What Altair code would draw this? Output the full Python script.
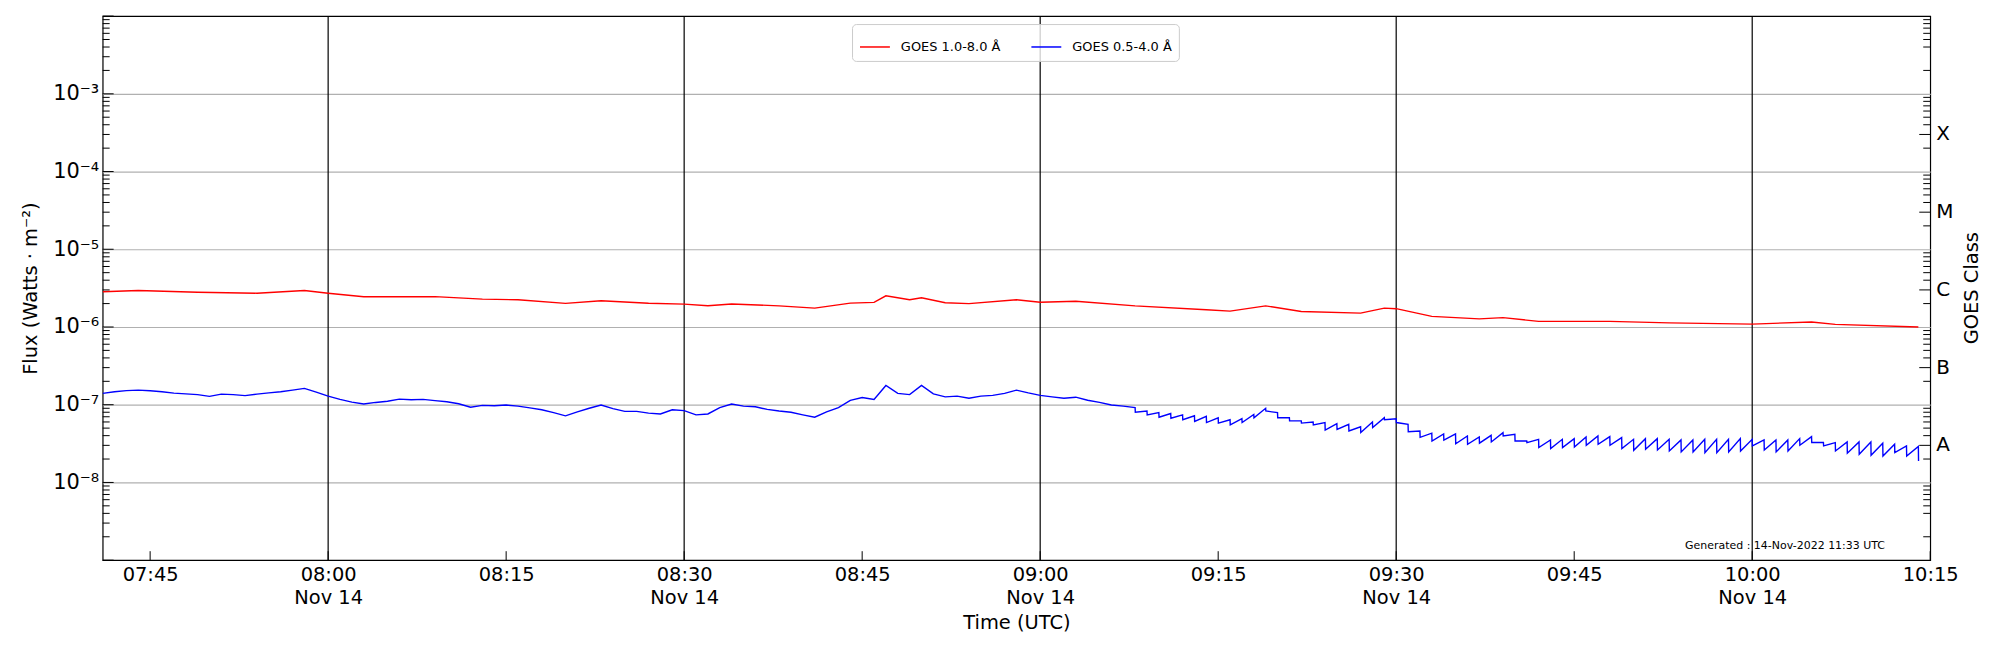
import math
import altair as alt
import pandas as pd

DAY = "2022-11-14"
DATE_LABEL = "Nov 14"

# ---- GOES 1.0-8.0 A (red) ----
red_time = ["07:41", "07:44", "07:49", "07:54", "07:58", "08:00", "08:03", "08:09", "08:13",
            "08:16", "08:20", "08:23", "08:27", "08:30", "08:32", "08:34", "08:38", "08:41",
            "08:44", "08:46", "08:47", "08:49", "08:50", "08:52", "08:54", "08:58", "09:00",
            "09:03", "09:08", "09:14", "09:16", "09:19", "09:22", "09:27", "09:29", "09:30",
            "09:33", "09:37", "09:39", "09:42", "09:48", "09:53", "10:00", "10:05", "10:07",
            "10:14"]
red_flux = [2.84e-6, 2.95e-6, 2.80e-6, 2.72e-6, 2.95e-6, 2.72e-6, 2.45e-6, 2.46e-6, 2.28e-6,
            2.24e-6, 2.01e-6, 2.18e-6, 2.02e-6, 1.97e-6, 1.88e-6, 1.98e-6, 1.87e-6, 1.75e-6,
            2.03e-6, 2.07e-6, 2.52e-6, 2.24e-6, 2.38e-6, 2.05e-6, 2.00e-6, 2.24e-6, 2.08e-6,
            2.14e-6, 1.87e-6, 1.67e-6, 1.60e-6, 1.87e-6, 1.58e-6, 1.51e-6, 1.75e-6, 1.72e-6,
            1.37e-6, 1.27e-6, 1.32e-6, 1.18e-6, 1.18e-6, 1.13e-6, 1.09e-6, 1.16e-6, 1.08e-6,
            1.00e-6]

# ---- GOES 0.5-4.0 A (blue), smooth part ----
blue_time = ["07:41", "07:42", "07:43", "07:44", "07:45", "07:46", "07:47", "07:48", "07:49",
             "07:50", "07:51", "07:52", "07:53", "07:54", "07:55", "07:56", "07:57", "07:58",
             "07:59", "08:00", "08:01", "08:02", "08:03", "08:04", "08:05", "08:06", "08:07",
             "08:08", "08:09", "08:10", "08:11", "08:12", "08:13", "08:14", "08:15", "08:16",
             "08:17", "08:18", "08:19", "08:20", "08:21", "08:22", "08:23", "08:24", "08:25",
             "08:26", "08:27", "08:28", "08:29", "08:30", "08:31", "08:32", "08:33", "08:34",
             "08:35", "08:36", "08:37", "08:38", "08:39", "08:40", "08:41", "08:42", "08:43",
             "08:44", "08:45", "08:46", "08:47", "08:48", "08:49", "08:50", "08:51", "08:52",
             "08:53", "08:54", "08:55", "08:56", "08:57", "08:58", "08:59", "09:00", "09:01",
             "09:02", "09:03", "09:04", "09:05", "09:06", "09:07"]
blue_flux = [1.40e-7, 1.47e-7, 1.52e-7, 1.54e-7, 1.51e-7, 1.47e-7, 1.41e-7, 1.38e-7, 1.35e-7,
             1.28e-7, 1.37e-7, 1.35e-7, 1.31e-7, 1.37e-7, 1.42e-7, 1.47e-7, 1.54e-7, 1.62e-7,
             1.45e-7, 1.29e-7, 1.17e-7, 1.08e-7, 1.02e-7, 1.07e-7, 1.11e-7, 1.18e-7, 1.16e-7,
             1.17e-7, 1.13e-7, 1.09e-7, 1.03e-7, 9.3e-8, 9.8e-8, 9.7e-8, 9.9e-8, 9.6e-8,
             9.1e-8, 8.6e-8, 7.9e-8, 7.2e-8, 8.1e-8, 9.0e-8, 9.9e-8, 8.9e-8, 8.2e-8,
             8.2e-8, 7.8e-8, 7.6e-8, 8.6e-8, 8.4e-8, 7.4e-8, 7.6e-8, 9.2e-8, 1.02e-7,
             9.6e-8, 9.4e-8, 8.7e-8, 8.3e-8, 8.0e-8, 7.4e-8, 6.9e-8, 8.1e-8, 9.2e-8,
             1.14e-7, 1.24e-7, 1.17e-7, 1.77e-7, 1.40e-7, 1.35e-7, 1.77e-7, 1.38e-7, 1.26e-7,
             1.29e-7, 1.21e-7, 1.29e-7, 1.32e-7, 1.40e-7, 1.54e-7, 1.42e-7, 1.32e-7, 1.26e-7,
             1.21e-7, 1.25e-7, 1.14e-7, 1.07e-7, 9.9e-8, 9.6e-8]

# ---- blue, saw-tooth part: value before and after each minute drop ----
saw_time = ["09:08", "09:09", "09:10", "09:11", "09:12", "09:13", "09:14", "09:15", "09:16",
            "09:17", "09:18", "09:19", "09:20", "09:21", "09:22", "09:23", "09:24", "09:25",
            "09:26", "09:27", "09:28", "09:29", "09:30", "09:31", "09:32", "09:33", "09:34",
            "09:35", "09:36", "09:37", "09:38", "09:39", "09:40", "09:41", "09:42", "09:43",
            "09:44", "09:45", "09:46", "09:47", "09:48", "09:49", "09:50", "09:51", "09:52",
            "09:53", "09:54", "09:55", "09:56", "09:57", "09:58", "09:59", "10:00", "10:01",
            "10:02", "10:03", "10:04", "10:05", "10:06", "10:07", "10:08", "10:09", "10:10",
            "10:11", "10:12", "10:13", "10:14"]
saw_top = [9.2e-8, 8.3e-8, 7.9e-8, 7.7e-8, 7.4e-8, 7.2e-8, 7.1e-8, 6.8e-8, 6.4e-8,
           6.6e-8, 7.5e-8, 9.0e-8, 7.9e-8, 6.8e-8, 6.2e-8, 6.0e-8, 5.9e-8, 5.7e-8,
           5.6e-8, 5.2e-8, 6.0e-8, 6.8e-8, 6.6e-8, 5.6e-8, 4.6e-8, 4.3e-8, 4.2e-8,
           4.2e-8, 3.96e-8, 3.85e-8, 4.04e-8, 4.38e-8, 4.16e-8, 3.41e-8, 3.59e-8, 3.52e-8,
           3.59e-8, 3.66e-8, 3.85e-8, 3.96e-8, 3.89e-8, 3.78e-8, 3.59e-8, 3.66e-8, 3.66e-8,
           3.59e-8, 3.52e-8, 3.52e-8, 3.59e-8, 3.59e-8, 3.59e-8, 3.66e-8, 3.59e-8, 3.52e-8,
           3.52e-8, 3.52e-8, 3.66e-8, 3.89e-8, 3.26e-8, 3.26e-8, 3.32e-8, 3.32e-8, 3.32e-8,
           3.19e-8, 3.10e-8, 2.95e-8, 2.90e-8]
saw_bottom = [8.0e-8, 7.4e-8, 6.9e-8, 6.7e-8, 6.4e-8, 6.1e-8, 5.9e-8, 5.8e-8, 5.5e-8,
              5.9e-8, 6.8e-8, 8.3e-8, 6.8e-8, 6.2e-8, 5.8e-8, 5.5e-8, 4.7e-8, 4.8e-8,
              4.6e-8, 4.4e-8, 5.1e-8, 6.4e-8, 5.9e-8, 4.5e-8, 3.8e-8, 3.4e-8, 3.5e-8,
              3.15e-8, 3.1e-8, 3.2e-8, 3.32e-8, 3.96e-8, 3.41e-8, 3.26e-8, 2.81e-8, 2.73e-8,
              2.81e-8, 2.86e-8, 3.01e-8, 3.10e-8, 3.01e-8, 2.73e-8, 2.59e-8, 2.67e-8, 2.62e-8,
              2.54e-8, 2.47e-8, 2.47e-8, 2.42e-8, 2.42e-8, 2.47e-8, 2.54e-8, 2.95e-8, 2.62e-8,
              2.47e-8, 2.54e-8, 3.01e-8, 3.26e-8, 2.95e-8, 2.54e-8, 2.38e-8, 2.31e-8, 2.24e-8,
              2.19e-8, 2.42e-8, 2.19e-8, 1.89e-8]

series_names = ["GOES 1.0-8.0 Å", "GOES 0.5-4.0 Å"]
series_colors = ["#ff0000", "#0000ff"]

x_tick_times = ["07:45", "08:00", "08:15", "08:30", "08:45", "09:00", "09:15", "09:30",
                "09:45", "10:00", "10:15"]
half_hour_lines = ["08:00", "08:30", "09:00", "09:30", "10:00"]
x_domain = ["07:41", "10:15"]

decade_values = [1e-9, 1e-8, 1e-7, 1e-6, 1e-5, 1e-4, 1e-3, 1e-2]
y_label_values = [1e-8, 1e-7, 1e-6, 1e-5, 1e-4, 1e-3]
minor_mult = [2, 3, 4, 5, 6, 7, 8, 9]
class_values = [3e-8, 3e-7, 3e-6, 3e-5, 3e-4]
class_labels = ["A", "B", "C", "M", "X"]
generated_text = "Generated : 14-Nov-2022 11:33 UTC"

W, H = 1834, 546
FONT = "DejaVu Sans"


def iso(hm, sec=0):
    return f"{DAY}T{hm}:{sec:02d}Z"


def dt(hm):
    h, m = hm.split(":")
    return alt.DateTime(year=2022, month=11, date=14, hours=int(h), minutes=int(m), utc=True)


# ---- tables ----
rows = []
for i, (t, v) in enumerate(zip(red_time, red_flux)):
    rows.append({"time": iso(t), "flux": v, "series": series_names[0], "idx": i})
k = 0
for t, v in zip(blue_time, blue_flux):
    rows.append({"time": iso(t), "flux": v, "series": series_names[1], "idx": k})
    k += 1
for t, top, bot in zip(saw_time, saw_top, saw_bottom):
    rows.append({"time": iso(t, 0), "flux": top, "series": series_names[1], "idx": k})
    k += 1
    rows.append({"time": iso(t, 1), "flux": bot, "series": series_names[1], "idx": k})
    k += 1
lines_df = pd.DataFrame(rows)

left_minor_vals = [m * d for d in decade_values[:-1] for m in minor_mult]
right_minor_vals = [m * d for d in decade_values[:-1] for m in minor_mult if m != 3]
left_minor = pd.DataFrame({"flux": left_minor_vals})
right_minor = pd.DataFrame({"flux": right_minor_vals})
decades_df = pd.DataFrame({"flux": decade_values})
class_df = pd.DataFrame({"flux": class_values, "label": class_labels})
xticks_df = pd.DataFrame({"time": [iso(t) for t in x_tick_times]})
vlines_df = pd.DataFrame({"time": [iso(t) for t in half_hour_lines]})
one = pd.DataFrame({"a": [0]})

# ---- scales / axes ----
xscale = alt.Scale(type="utc", domain=[dt(x_domain[0]), dt(x_domain[1])])
yscale = alt.Scale(type="log", domain=[decade_values[0], decade_values[-1]], nice=False)

x_label_expr = (
    "(utcFormat(datum.value, '%M') == '00' || utcFormat(datum.value, '%M') == '30') ? "
    "[utcFormat(datum.value, '%H:%M'), '" + DATE_LABEL + "'] : utcFormat(datum.value, '%H:%M')"
)
xaxis = alt.Axis(values=[dt(t) for t in x_tick_times], labelExpr=x_label_expr, grid=False,
                 ticks=False, tickSize=0, domain=False, labelPadding=5, labelLineHeight=23,
                 labelFontSize=19.5, titleFontSize=19.5, titlePadding=7, labelFlush=False,
                 labelOverlap=False)
y_label_expr = ("'10⁻' + ['⁰','¹','²','³','⁴','⁵','⁶','⁷','⁸','⁹']"
                "[-round(log(datum.value) / LN10)]")
yaxis = alt.Axis(values=y_label_values, labelExpr=y_label_expr, grid=True, gridColor="#b0b0b0",
                 gridWidth=1.2, ticks=False, tickSize=0, domain=False, labelPadding=4,
                 labelFontSize=21, titleFontSize=19.5, titlePadding=12)

X_TITLE = "Time (UTC)"
Y_TITLE = "Flux (Watts · m⁻²)"


def X():
    return alt.X("time:T", scale=xscale, axis=xaxis, title=X_TITLE)


def Y():
    return alt.Y("flux:Q", scale=yscale, axis=yaxis, title=Y_TITLE)


vlines = alt.Chart(vlines_df).mark_rule(color="black", strokeWidth=1.2).encode(x=X())

lines = alt.Chart(lines_df).mark_line(strokeWidth=1.4, clip=True).encode(
    x=X(), y=Y(),
    color=alt.Color("series:N", scale=alt.Scale(domain=series_names, range=series_colors),
                    sort=series_names,
                    legend=alt.Legend(orient="none", legendX=752, legendY=8, direction="horizontal",
                                      title=None, symbolType="stroke", symbolSize=900,
                                      symbolStrokeWidth=1.5, labelFontSize=13, labelFont=FONT,
                                      padding=7, strokeColor="#cccccc",
                                      fillColor="rgba(255,255,255,0.8)", cornerRadius=4,
                                      columnPadding=28, labelOffset=10)),
    order="idx:Q",
)

left_major = alt.Chart(decades_df).mark_rule(color="black").encode(
    y=Y(), x=alt.value(0), x2=alt.value(11))
left_min = alt.Chart(left_minor).mark_rule(color="black").encode(
    y=Y(), x=alt.value(0), x2=alt.value(7))
right_major = alt.Chart(class_df).mark_rule(color="black").encode(
    y=Y(), x=alt.value(W), x2=alt.value(W - 11))
right_min = alt.Chart(right_minor).mark_rule(color="black").encode(
    y=Y(), x=alt.value(W), x2=alt.value(W - 7))
x_ticks = alt.Chart(xticks_df).mark_rule(color="black").encode(
    x=X(), y=alt.value(H), y2=alt.value(H - 9))

class_text = alt.Chart(class_df).mark_text(align="left", baseline="middle", fontSize=20,
                                           font=FONT, color="black").encode(
    y=Y(), x=alt.value(W + 6), text="label:N")
class_title = alt.Chart(one).mark_text(text="GOES Class", angle=270, align="center",
                                       baseline="middle", fontSize=19.5, font=FONT,
                                       color="black").encode(
    x=alt.value(W + 42), y=alt.value(H / 2))
gen_text = alt.Chart(one).mark_text(text=generated_text, align="left", baseline="middle",
                                    fontSize=11, font=FONT, color="black").encode(
    x=alt.value(1588), y=alt.value(532))

chart = alt.layer(
    vlines, lines, left_major, left_min, right_major, right_min, x_ticks,
    class_text, class_title, gen_text
).properties(
    width=W, height=H,
    padding={"left": 95, "top": 7, "right": 62, "bottom": 80},
    autosize=alt.AutoSizeParams(type="none"),
).configure_view(
    stroke="black", strokeWidth=1.2
).configure_axis(
    labelFont=FONT, titleFont=FONT, labelColor="black", titleColor="black",
    titleFontWeight="normal"
)

chart.save("out.html", embed_options={"renderer": "svg", "actions": False})
